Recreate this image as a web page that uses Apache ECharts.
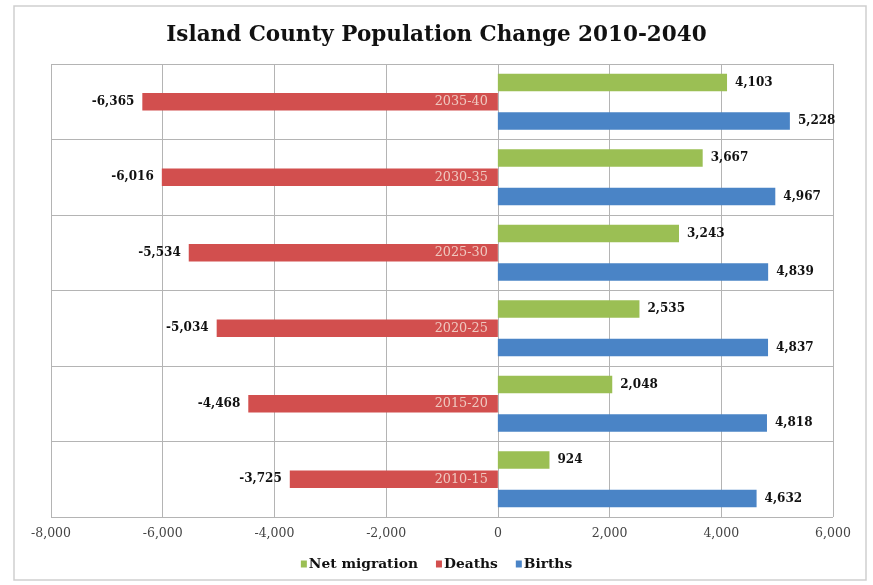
<!DOCTYPE html>
<html>
<head>
<meta charset="utf-8">
<script src="https://cdn.jsdelivr.net/npm/echarts@6/dist/echarts.min.js"></script>
<style>
  html, body { margin: 0; padding: 0; background: #fff; }
  #chart { width: 873px; height: 585px; }
</style>
</head>
<body>
<div id="chart"></div>
<script>
// Five-year periods, listed bottom to top
const periods = ['2010-15', '2015-20', '2020-25', '2025-30', '2030-35', '2035-40'];
const netMigration = [924, 2048, 2535, 3243, 3667, 4103];
const deaths = [-3725, -4468, -5034, -5534, -6016, -6365];
const births = [4632, 4818, 4837, 4839, 4967, 5228];
const xTicks = { min: -8000, max: 6000, step: 2000 };

const serif = '"DejaVu Serif", "Liberation Serif", serif';
const fmt = v => (v < 0 ? '-' : '') + Math.abs(v).toLocaleString('en-US');

const valueLabel = pos => ({
  show: true,
  position: pos,
  distance: 8,
  color: '#111',
  fontFamily: serif,
  fontWeight: 'bold',
  fontSize: 12,
  formatter: p => fmt(p.value)
});

const chart = echarts.init(document.getElementById('chart'));
chart.setOption({
  animation: false,
  backgroundColor: '#fff',
  graphic: [{
    type: 'rect',
    shape: { x: 14, y: 6, width: 852, height: 574 },
    style: { fill: 'none', stroke: '#cfcfcf', lineWidth: 1.5 },
    z: -1
  }],
  title: {
    text: 'Island County Population Change 2010-2040',
    left: 'center',
    top: 19,
    textStyle: { fontFamily: serif, fontWeight: 'bold', fontSize: 21.5, color: '#111' }
  },
  legend: {
    data: ['Net migration', 'Deaths', 'Births'],
    bottom: 9,
    left: 'center',
    itemWidth: 6,
    itemHeight: 7,
    itemGap: 18,
    icon: 'rect',
    textStyle: { fontFamily: serif, fontWeight: 'bold', fontSize: 13.8, color: '#111', padding: [0, 0, 0, -3] }
  },
  grid: { left: 51, right: 40, top: 64, bottom: 68, containLabel: false },
  xAxis: {
    type: 'value',
    min: xTicks.min,
    max: xTicks.max,
    interval: xTicks.step,
    axisLine: { show: false },
    axisTick: { show: false },
    splitLine: { show: true, lineStyle: { color: '#b4b4b4', width: 1 } },
    axisLabel: {
      color: '#444',
      fontFamily: serif,
      fontSize: 12.5,
      margin: 10,
      formatter: v => fmt(v)
    }
  },
  yAxis: {
    type: 'category',
    data: periods,
    axisLine: { show: false },
    axisTick: { show: false },
    axisLabel: { show: false },
    splitLine: { show: true, lineStyle: { color: '#b4b4b4', width: 1 } }
  },
  series: [
    {
      name: 'Net migration', type: 'bar', data: netMigration,
      barWidth: 17.5, barGap: '10%', barCategoryGap: '30%',
      itemStyle: { color: '#9bbf54' },
      label: valueLabel('right')
    },
    {
      name: 'Deaths', type: 'bar', data: deaths,
      barWidth: 17.5, barGap: '10%',
      itemStyle: { color: '#d24f4e' },
      label: valueLabel('left')
    },
    {
      name: 'Births', type: 'bar', data: births,
      barWidth: 17.5, barGap: '10%',
      itemStyle: { color: '#4a84c6' },
      label: valueLabel('right')
    },
    {
      // period names sitting on the zero line, over the death bars
      type: 'scatter',
      data: periods.map(p => [0, p]),
      symbolSize: 0,
      silent: true,
      z: 10,
      label: {
        show: true,
        position: 'left',
        distance: 10,
        color: '#f6e6dc',
        fontFamily: serif,
        fontSize: 12.8,
        formatter: p => p.value[1]
      }
    }
  ]
});
</script>
</body>
</html>
